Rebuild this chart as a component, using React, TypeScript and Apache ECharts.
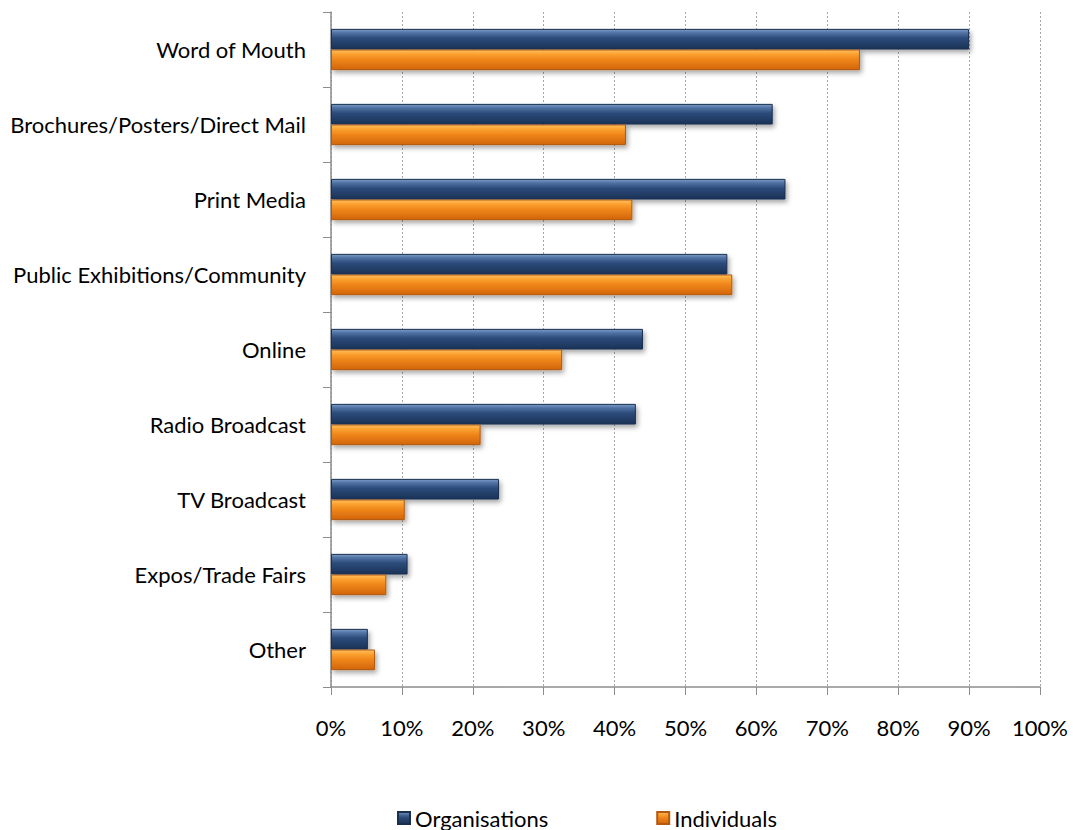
import React, { useEffect, useRef } from "react";
import * as echarts from "echarts";

const categories = [
  "Word of Mouth",
  "Brochures/Posters/Direct Mail",
  "Print Media",
  "Public Exhibitions/Community",
  "Online",
  "Radio Broadcast",
  "TV Broadcast",
  "Expos/Trade Fairs",
  "Other",
];
const organisations = [90.0, 62.3, 64.1, 55.9, 44.0, 43.0, 23.7, 10.8, 5.2];
const individuals = [74.6, 41.6, 42.5, 56.6, 32.6, 21.1, 10.4, 7.8, 6.2];
const seriesNames = ["Organisations", "Individuals"];

const FONT = "Lato, 'Liberation Sans', Arial, sans-serif";

const orgGradient = new echarts.graphic.LinearGradient(0, 0, 0, 1, [
  { offset: 0, color: "#7d9cc8" },
  { offset: 0.18, color: "#4f72a3" },
  { offset: 0.45, color: "#2b4b7a" },
  { offset: 1, color: "#1b3256" },
]);
const indGradient = new echarts.graphic.LinearGradient(0, 0, 0, 1, [
  { offset: 0, color: "#ffc160" },
  { offset: 0.2, color: "#fca232" },
  { offset: 0.5, color: "#ee851a" },
  { offset: 1, color: "#d2650a" },
]);

export default function App() {
  const ref = useRef<HTMLDivElement>(null);
  useEffect(() => {
    if (!ref.current) return;
    const chart = echarts.init(ref.current, undefined, { renderer: "svg" });
    chart.setOption({
      animation: false,
      backgroundColor: "#ffffff",
      grid: {
        left: 331,
        right: 33,
        top: 12,
        bottom: 143,
        containLabel: false,
        outerBoundsMode: "none",
      },
      legend: {
        left: 392,
        top: 802,
        itemWidth: 12,
        itemHeight: 12,
        itemGap: 108,
        icon: "rect",
        textStyle: { fontFamily: FONT, fontSize: 22, color: "#000" },
        data: seriesNames,
      },
      xAxis: {
        type: "value",
        min: 0,
        max: 100,
        interval: 10,
        axisLine: { show: true, lineStyle: { color: "#8c8c8c", width: 1.5 } },
        axisTick: { show: true, length: 8, lineStyle: { color: "#8c8c8c" } },
        axisLabel: {
          formatter: "{value}%",
          fontFamily: FONT,
          fontSize: 22,
          color: "#000",
          margin: 29,
        },
        splitLine: { show: true, lineStyle: { color: "#a6a6a6", type: [2, 2], width: 1 } },
      },
      yAxis: {
        type: "category",
        inverse: true,
        data: categories,
        axisLine: { show: true, lineStyle: { color: "#8c8c8c", width: 1.5 } },
        axisTick: { show: true, length: 8, lineStyle: { color: "#8c8c8c" } },
        axisLabel: {
          fontFamily: FONT,
          fontSize: 22,
          color: "#000",
          margin: 25,
        },
      },
      series: [
        {
          name: seriesNames[0],
          type: "bar",
          data: organisations,
          barGap: "0%",
          barCategoryGap: "45%",
          itemStyle: {
            color: orgGradient,
            borderColor: "#1a2f50",
            borderWidth: 1,
            shadowBlur: 5,
            shadowOffsetX: 2,
            shadowOffsetY: 3,
            shadowColor: "rgba(0,0,0,0.35)",
          },
        },
        {
          name: seriesNames[1],
          type: "bar",
          data: individuals,
          barGap: "0%",
          barCategoryGap: "45%",
          itemStyle: {
            color: indGradient,
            borderColor: "#b05a12",
            borderWidth: 1,
            shadowBlur: 5,
            shadowOffsetX: 2,
            shadowOffsetY: 3,
            shadowColor: "rgba(0,0,0,0.35)",
          },
        },
      ],
    });
    return () => chart.dispose();
  }, []);
  return (
    <div
      ref={ref}
      style={{ width: 1073, height: 830, position: "absolute", left: 0, top: 0 }}
    />
  );
}
